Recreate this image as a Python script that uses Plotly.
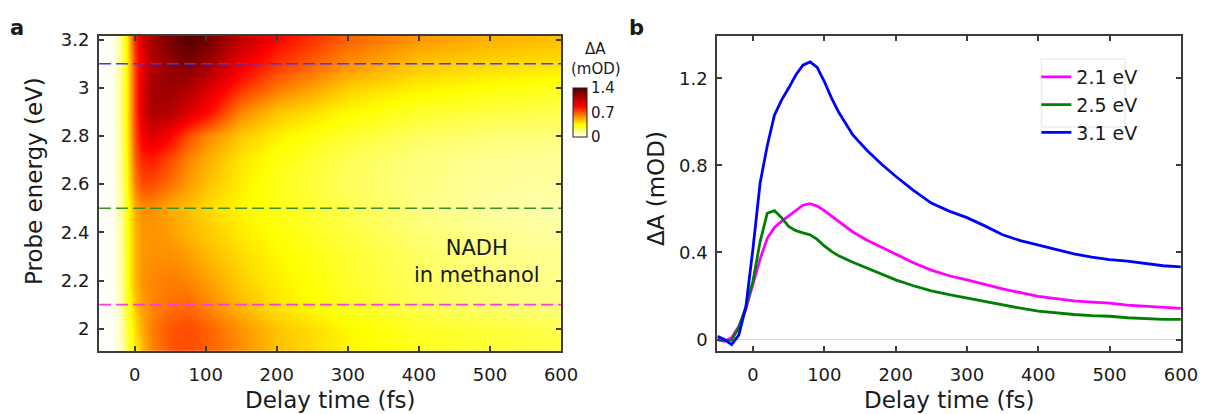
import plotly.graph_objects as go

W, H = 1219, 414

# ---------------- data ----------------
# Heatmap (panel a): delay times (fs), probe energies (eV), dA (mOD)
hm_time = [-50, -30, -20, -10, 0, 10, 25, 50, 75, 100, 150, 200, 300, 400, 500, 600]
hm_energy = [1.9, 2.0, 2.1, 2.2, 2.3, 2.4, 2.5, 2.6, 2.7, 2.8, 2.9, 3.0, 3.1, 3.2]
row_190 = [0, 0.01, 0.08, 0.25, 0.38, 0.48, 0.60, 0.70, 0.72, 0.68, 0.58, 0.48, 0.37, 0.31, 0.28, 0.26]
row_200 = [0, 0.01, 0.08, 0.26, 0.42, 0.52, 0.62, 0.70, 0.72, 0.68, 0.57, 0.47, 0.36, 0.30, 0.27, 0.24]
row_210 = [0, 0.02, 0.10, 0.30, 0.46, 0.55, 0.60, 0.64, 0.66, 0.60, 0.49, 0.40, 0.30, 0.23, 0.19, 0.17]
row_220 = [0, 0.02, 0.11, 0.32, 0.50, 0.57, 0.60, 0.62, 0.60, 0.55, 0.45, 0.38, 0.29, 0.22, 0.18, 0.16]
row_230 = [0, 0.02, 0.11, 0.32, 0.50, 0.56, 0.58, 0.58, 0.55, 0.50, 0.42, 0.36, 0.28, 0.21, 0.17, 0.15]
row_240 = [0, 0.02, 0.12, 0.32, 0.50, 0.56, 0.57, 0.55, 0.50, 0.46, 0.39, 0.34, 0.26, 0.19, 0.15, 0.13]
row_250 = [0, 0.02, 0.12, 0.32, 0.52, 0.58, 0.58, 0.52, 0.48, 0.43, 0.36, 0.32, 0.24, 0.17, 0.13, 0.11]
row_260 = [0, 0.02, 0.13, 0.35, 0.62, 0.72, 0.72, 0.64, 0.55, 0.48, 0.38, 0.31, 0.22, 0.17, 0.14, 0.13]
row_270 = [0, 0.02, 0.14, 0.36, 0.68, 0.80, 0.82, 0.72, 0.60, 0.52, 0.40, 0.33, 0.23, 0.18, 0.15, 0.14]
row_280 = [0, 0.02, 0.14, 0.38, 0.72, 0.90, 0.98, 0.88, 0.72, 0.60, 0.46, 0.38, 0.28, 0.22, 0.19, 0.18]
row_290 = [0, 0.02, 0.15, 0.38, 0.75, 0.98, 1.12, 1.10, 0.98, 0.88, 0.60, 0.47, 0.36, 0.29, 0.26, 0.24]
row_300 = [0, 0.02, 0.15, 0.38, 0.75, 0.98, 1.15, 1.18, 1.12, 1.00, 0.78, 0.63, 0.45, 0.38, 0.34, 0.31]
row_310 = [0, 0.02, 0.15, 0.38, 0.75, 0.95, 1.10, 1.20, 1.27, 1.18, 0.92, 0.77, 0.58, 0.47, 0.43, 0.41]
row_320 = [0, 0.02, 0.15, 0.40, 0.80, 1.00, 1.15, 1.28, 1.38, 1.30, 1.06, 0.87, 0.67, 0.56, 0.51, 0.48]
hm_z = [row_190, row_200, row_210, row_220, row_230, row_240, row_250,
        row_260, row_270, row_280, row_290, row_300, row_310, row_320]

cut_energies = [3.1, 2.5, 2.1]
cut_colors = ["#3a3aff", "#3a8f2a", "#ff3ad8"]

# Kinetic traces (panel b)
delay = [-50, -40, -30, -20, -10, 0, 10, 20, 30, 40, 50, 60, 70, 80, 90, 100, 110, 120,
         140, 160, 180, 200, 225, 250, 275, 300, 325, 350, 375, 400, 425, 450, 475, 500,
         525, 550, 575, 600]
trace_21 = [0.0, -0.008, 0.008, 0.06, 0.14, 0.25, 0.37, 0.465, 0.515, 0.543, 0.567, 0.593,
            0.617, 0.624, 0.613, 0.592, 0.567, 0.542, 0.494, 0.456, 0.424, 0.393, 0.353,
            0.319, 0.293, 0.274, 0.253, 0.233, 0.215, 0.198, 0.188, 0.178, 0.172, 0.167,
            0.158, 0.152, 0.147, 0.143]
trace_25 = [0.0, -0.005, -0.003, 0.055, 0.15, 0.27, 0.45, 0.58, 0.592, 0.56, 0.52, 0.50,
            0.49, 0.481, 0.46, 0.43, 0.405, 0.385, 0.355, 0.327, 0.30, 0.274, 0.247, 0.224,
            0.206, 0.19, 0.173, 0.158, 0.144, 0.13, 0.122, 0.115, 0.11, 0.107, 0.10, 0.096,
            0.093, 0.093]
trace_31 = [0.015, 0.0, -0.023, 0.02, 0.15, 0.42, 0.72, 0.89, 1.03, 1.10, 1.155, 1.215,
            1.26, 1.275, 1.25, 1.185, 1.11, 1.045, 0.94, 0.868, 0.806, 0.75, 0.685, 0.627,
            0.59, 0.56, 0.522, 0.481, 0.454, 0.433, 0.414, 0.393, 0.378, 0.367, 0.36,
            0.348, 0.339, 0.334]
trace_names = ["2.1 eV", "2.5 eV", "3.1 eV"]
trace_colors = ["#ff00ff", "#008000", "#0000ff"]

x_ticks = [0, 100, 200, 300, 400, 500, 600]
e_ticks = [2.0, 2.2, 2.4, 2.6, 2.8, 3.0, 3.2]
e_ticktext = ["2", "2.2", "2.4", "2.6", "2.8", "3", "3.2"]
a_ticks = [0, 0.4, 0.8, 1.2]
a_ticktext = ["0", "0.4", "0.8", "1.2"]
cb_ticks = [0, 0.7, 1.4]
cb_ticktext = ["0", "0.7", "1.4"]


def px(x):
    return x / W


def py(y):
    return 1 - y / H


FONT = "DejaVu Sans"
TXT = "#1a1a1a"
AX = "#3c3c3c"

fig = go.Figure()

fig.add_trace(go.Heatmap(
    x=hm_time, y=hm_energy, z=hm_z, zsmooth="best", zmin=0, zmax=1.4,
    colorscale=[[0, "#ffffff"], [0.25, "#ffff00"], [0.625, "#ff0000"], [1, "#500000"]],
    xaxis="x", yaxis="y", showscale=True,
    colorbar=dict(x=px(581), xanchor="left", y=py(107.5), yanchor="middle",
                  len=48.5, lenmode="pixels", thickness=14, thicknessmode="pixels",
                  xpad=0, ypad=0, outlinewidth=1, outlinecolor="#222222",
                  tickvals=cb_ticks, ticktext=cb_ticktext, ticks="",
                  tickfont=dict(family=FONT, size=15, color=TXT)),
))

for e, c in zip(cut_energies, cut_colors):
    fig.add_trace(go.Scatter(x=[-50, 600], y=[e, e], mode="lines",
                             line=dict(color=c, width=1.6, dash="12px,5px"),
                             xaxis="x", yaxis="y", showlegend=False, hoverinfo="skip"))

for name, col, vals in zip(trace_names, trace_colors, [trace_21, trace_25, trace_31]):
    fig.add_trace(go.Scatter(x=delay, y=vals, mode="lines", name=name,
                             line=dict(color=col, width=2.8),
                             xaxis="x2", yaxis="y2"))

axis_common = dict(showline=True, linewidth=2, linecolor=AX, mirror="ticks",
                   ticks="inside", ticklen=5, tickwidth=2, tickcolor=AX,
                   showgrid=False, tickfont=dict(family=FONT, size=18, color=TXT))

fig.update_layout(
    width=W, height=H, margin=dict(l=0, r=0, t=0, b=0),
    paper_bgcolor="white", plot_bgcolor="white",
    font=dict(family=FONT, color=TXT),
    xaxis=dict(domain=[px(100.5), px(569)], range=[-50, 600], tickvals=x_ticks,
               anchor="y", zeroline=False, ticklabelstandoff=6, **axis_common),
    yaxis=dict(domain=[py(350), py(29.3)], range=[1.907, 3.216], tickvals=e_ticks,
               ticktext=e_ticktext, anchor="x", zeroline=False, ticklabelstandoff=4,
               **axis_common),
    xaxis2=dict(domain=[px(727.5), px(1197.6)], range=[-50, 600], tickvals=x_ticks,
                anchor="y2", zeroline=False, ticklabelstandoff=6, **axis_common),
    yaxis2=dict(domain=[py(350), py(29.3)], range=[-0.053, 1.395], tickvals=a_ticks,
                ticktext=a_ticktext, anchor="x2", zeroline=True, zerolinecolor="#dcdcdc",
                zerolinewidth=1, ticklabelstandoff=4, **axis_common),
    legend=dict(x=px(1051), y=py(52), xanchor="left", yanchor="top",
                bgcolor="rgba(0,0,0,0)", borderwidth=0,
                font=dict(family=FONT, size=19, color=TXT)),
    showlegend=True,
)

# faint legend frame as in reference
fig.add_shape(type="rect", xref="paper", yref="paper", x0=px(1056), x1=px(1141),
              y0=py(122), y1=py(53), line=dict(color="#e6e6e6", width=1), layer="below")

ann = [
    dict(text="<b>a</b>", x=px(17.5), y=py(21), size=21),
    dict(text="<b>b</b>", x=px(645.5), y=py(21), size=21),
    dict(text="Delay time (fs)", x=px(334.7), y=py(400), size=23),
    dict(text="Delay time (fs)", x=px(962.5), y=py(400), size=23),
    dict(text="NADH<br>in methanol", x=px(484), y=py(259), size=21),
    dict(text="ΔA", x=px(604), y=py(43), size=15),
    dict(text="(mOD)", x=px(604), y=py(63), size=15),
]
for a in ann:
    fig.add_annotation(text=a["text"], x=a["x"], y=a["y"], xref="paper", yref="paper",
                       xanchor="center", yanchor="middle", showarrow=False,
                       font=dict(family=FONT, size=a["size"], color=TXT))

fig.add_annotation(text="Probe energy (eV)", x=px(34.5), y=py(177), xref="paper",
                   yref="paper", textangle=-90, showarrow=False, xanchor="center",
                   yanchor="middle", font=dict(family=FONT, size=23, color=TXT))
fig.add_annotation(text="ΔA (mOD)", x=px(665.5), y=py(185), xref="paper",
                   yref="paper", textangle=-90, showarrow=False, xanchor="center",
                   yanchor="middle", font=dict(family=FONT, size=23, color=TXT))

fig.write_html("out.html")
